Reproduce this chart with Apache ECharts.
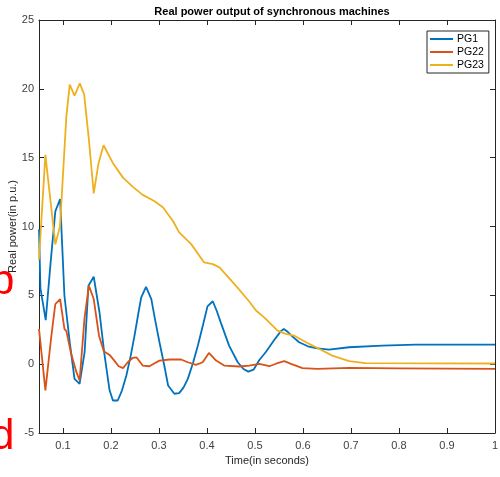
<!DOCTYPE html>
<html>
<head>
<meta charset="utf-8">
<script src="https://cdn.jsdelivr.net/npm/echarts@6/dist/echarts.min.js"></script>
<style>
  html, body { margin: 0; padding: 0; background: #fff; }
  #chart { width: 500px; height: 477px; }
</style>
</head>
<body>
<div id="chart"></div>
<script>
// time (s) and power (p.u.)
const pg1T = [0.05, 0.053, 0.064, 0.074, 0.084, 0.094, 0.103, 0.114, 0.124, 0.1346, 0.145, 0.153, 0.164, 0.176, 0.186, 0.197, 0.204, 0.214, 0.223, 0.232, 0.241, 0.249, 0.257, 0.263, 0.273, 0.284, 0.292, 0.301, 0.311, 0.319, 0.332, 0.342, 0.351, 0.36, 0.371, 0.381, 0.392, 0.401, 0.412, 0.42, 0.429, 0.446, 0.464, 0.476, 0.486, 0.497, 0.509, 0.523, 0.54, 0.554, 0.56, 0.568, 0.58, 0.592, 0.61, 0.627, 0.654, 0.696, 0.765, 0.835, 1.0];
const pg1V = [9.8, 5.5, 3.2, 7.3, 11.1, 12.0, 4.97, 1.6, -1.07, -1.43, 0.87, 5.7, 6.35, 3.77, 0.8, -1.9, -2.64, -2.64, -1.9, -0.82, 0.6, 2.07, 3.7, 4.86, 5.62, 4.73, 3.2, 1.59, -0.1, -1.55, -2.15, -2.1, -1.7, -1.07, 0.1, 1.35, 2.9, 4.2, 4.57, 3.9, 3.0, 1.35, 0.14, -0.35, -0.54, -0.4, 0.3, 0.9, 1.75, 2.4, 2.56, 2.35, 1.95, 1.59, 1.3, 1.16, 1.06, 1.23, 1.35, 1.42, 1.42];

const pg22T = [0.05, 0.0633, 0.075, 0.084, 0.094, 0.103, 0.107, 0.117, 0.128, 0.1346, 0.145, 0.154, 0.164, 0.175, 0.185, 0.197, 0.207, 0.216, 0.225, 0.235, 0.245, 0.253, 0.266, 0.28, 0.29, 0.301, 0.322, 0.346, 0.36, 0.377, 0.391, 0.404, 0.419, 0.436, 0.467, 0.488, 0.509, 0.53, 0.545, 0.561, 0.575, 0.599, 0.63, 0.696, 0.8, 1.0];
const pg22V = [2.56, -1.91, 1.83, 4.37, 4.73, 2.56, 2.4, 0.75, -0.58, -1.19, 3.4, 5.7, 4.73, 2.07, 0.94, 0.67, 0.26, -0.15, -0.29, 0.14, 0.45, 0.5, -0.1, -0.15, 0.05, 0.26, 0.34, 0.34, 0.14, -0.05, 0.14, 0.82, 0.26, -0.1, -0.17, -0.1, 0.02, -0.15, 0.05, 0.22, 0.02, -0.29, -0.34, -0.27, -0.3, -0.34];

const pg23T = [0.05, 0.0633, 0.084, 0.0937, 0.107, 0.114, 0.124, 0.135, 0.144, 0.154, 0.164, 0.174, 0.1845, 0.204, 0.225, 0.245, 0.266, 0.29, 0.308, 0.329, 0.342, 0.367, 0.394, 0.412, 0.426, 0.46, 0.488, 0.502, 0.519, 0.547, 0.564, 0.582, 0.613, 0.627, 0.661, 0.696, 0.73, 1.0];
const pg23V = [7.6, 15.2, 8.7, 10.0, 18.0, 20.3, 19.5, 20.4, 19.6, 16.3, 12.4, 14.6, 15.9, 14.6, 13.55, 12.9, 12.3, 11.85, 11.4, 10.4, 9.57, 8.72, 7.39, 7.27, 7.03, 5.7, 4.55, 3.9, 3.4, 2.43, 2.2, 2.07, 1.47, 1.23, 0.62, 0.22, 0.07, 0.05];

const seriesNames = ['PG1', 'PG22', 'PG23'];
const xTicks = [0.1, 0.2, 0.3, 0.4, 0.5, 0.6, 0.7, 0.8, 0.9, 1];

function pairs(t, v) {
    return t.map(function (x, i) { return [x, v[i]]; });
}

const chart = echarts.init(document.getElementById('chart'));
const axisCol = '#262626';
const font = 'Arial, "Liberation Sans", sans-serif';

const option = {
    animation: false,
    color: ['#0072BD', '#D95319', '#EDB120'],
    textStyle: { fontFamily: font },
    title: {
        text: 'Real power output of synchronous machines',
        left: 267,
        textAlign: 'center',
        top: 1,
        textStyle: { fontSize: 11, fontWeight: 'bold', color: '#000', fontFamily: font }
    },
    legend: {
        data: seriesNames,
        orient: 'vertical',
        left: 427,
        top: 31,
        padding: [2, 5, 2, 3],
        itemWidth: 23,
        itemHeight: 2,
        itemGap: 1,
        icon: 'rect',
        backgroundColor: '#fff',
        borderColor: axisCol,
        borderWidth: 1,
        borderRadius: 0,
        textStyle: { fontSize: 10.5, color: '#000', lineHeight: 12, padding: [0, 0, 0, -1] }
    },
    grid: { left: 39, right: 5, top: 20, bottom: 44, outerBoundsMode: 'none', containLabel: false },
    xAxis: [
        {
            type: 'value', min: 0.05, max: 1,
            name: 'Time(in seconds)', nameLocation: 'middle', nameGap: 22,
            nameTextStyle: { fontSize: 11, color: axisCol },
            axisLine: { onZero: false, lineStyle: { color: axisCol } },
            axisTick: { inside: true, length: 5, customValues: xTicks, lineStyle: { color: axisCol } },
            axisLabel: { customValues: xTicks, fontSize: 11, color: '#404040', margin: 7 },
            splitLine: { show: false }
        },
        {
            type: 'value', min: 0.05, max: 1, position: 'top',
            axisLine: { onZero: false, lineStyle: { color: axisCol } },
            axisTick: { inside: true, length: 5, customValues: xTicks, lineStyle: { color: axisCol } },
            axisLabel: { show: false },
            splitLine: { show: false }
        }
    ],
    yAxis: [
        {
            type: 'value', min: -5, max: 25, interval: 5,
            name: 'Real power(in p.u.)', nameLocation: 'middle', nameGap: 21, nameMoveOverlap: false,
            nameTextStyle: { fontSize: 11, color: axisCol },
            axisLine: { show: true, onZero: false, lineStyle: { color: axisCol } },
            axisTick: { show: true, inside: true, length: 5, lineStyle: { color: axisCol } },
            axisLabel: { fontSize: 11, color: '#404040', margin: 5 },
            splitLine: { show: false }
        },
        {
            type: 'value', min: -5, max: 25, interval: 5, position: 'right',
            axisLine: { show: true, onZero: false, lineStyle: { color: axisCol } },
            axisTick: { show: true, inside: true, length: 5, lineStyle: { color: axisCol } },
            axisLabel: { show: false },
            splitLine: { show: false }
        }
    ],
    graphic: [
        { type: 'text', x: -9, y: 303, style: { text: 'b', fill: '#ff0000', font: '42px Arial, "Liberation Sans"', verticalAlign: 'bottom' } },
        { type: 'text', x: -9, y: 458, style: { text: 'd', fill: '#ff0000', font: '42px Arial, "Liberation Sans"', verticalAlign: 'bottom' } }
    ],
    series: [
        { name: 'PG1', type: 'line', showSymbol: false, lineStyle: { width: 1.8 }, data: pairs(pg1T, pg1V) },
        { name: 'PG22', type: 'line', showSymbol: false, lineStyle: { width: 1.8 }, data: pairs(pg22T, pg22V) },
        { name: 'PG23', type: 'line', showSymbol: false, lineStyle: { width: 1.8 }, data: pairs(pg23T, pg23V) }
    ]
};
chart.setOption(option);
</script>
</body>
</html>
